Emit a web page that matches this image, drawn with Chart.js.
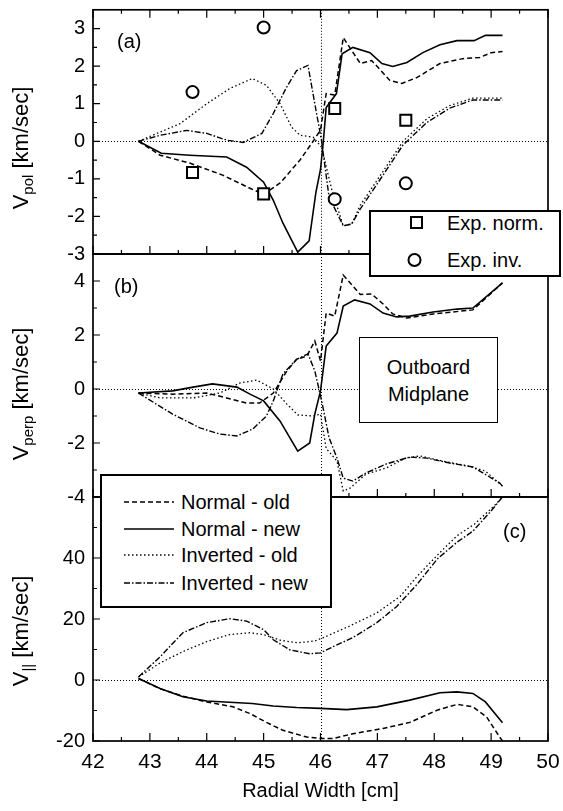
<!DOCTYPE html>
<html>
<head>
<meta charset="utf-8">
<script src="https://cdn.jsdelivr.net/npm/chart.js@4.4.1/dist/chart.umd.min.js"></script>
<style>
  body { margin: 0; background: #fff; }
  #wrap { position: relative; width: 563px; height: 811px; font-family: "Liberation Sans", Arial, sans-serif; color: #000; }
  canvas { position: absolute; left: 0; top: 0; }
  .txt { position: absolute; font-size: 20px; white-space: nowrap; }
  .ytitle { position: absolute; font-size: 22px; white-space: nowrap; transform: translate(-50%, -50%) rotate(-90deg); }
  .ytitle sub { font-size: 15px; vertical-align: -5px; }
  .box { position: absolute; background: #fff; border: 1.5px solid #000; box-sizing: border-box; z-index: 5; }
  .row { position: absolute; left: 0; height: 24px; line-height: 24px; font-size: 20px; white-space: nowrap; }
  .row svg { position: absolute; top: 0; }
  .row span { position: absolute; }
</style>
</head>
<body>
<div id="wrap">
  <canvas id="chartA" width="563" height="811"></canvas>
  <canvas id="chartB" width="563" height="811"></canvas>
  <canvas id="chartC" width="563" height="811"></canvas>

  <div class="ytitle" style="left:22px;top:148px">V<sub>pol</sub> [km/sec]</div>
  <div class="ytitle" style="left:22px;top:394px">V<sub>perp</sub> [km/sec]</div>
  <div class="ytitle" style="left:22px;top:631px">V<sub>||</sub> [km/sec]</div>

  <div class="txt" style="left:117px;top:30px">(a)</div>
  <div class="txt" style="left:114px;top:275px">(b)</div>
  <div class="txt" style="left:503px;top:520px">(c)</div>

  <div class="box" style="left:359px;top:337px;width:139px;height:86px;text-align:center;font-size:20px;line-height:27px;padding-top:16px">Outboard<br>Midplane</div>

  <div class="box" style="left:369px;top:210px;width:192px;height:67px;border-width:2px">
    <div class="row" style="top:-1px;width:190px">
      <svg width="20" height="24" style="left:36px"><rect x="4" y="6" width="11" height="11" fill="#fff" stroke="#000" stroke-width="2"/></svg>
      <span style="left:76px">Exp. norm.</span>
    </div>
    <div class="row" style="top:36px;width:190px">
      <svg width="20" height="24" style="left:34px"><circle cx="9.5" cy="12" r="6" fill="#fff" stroke="#000" stroke-width="2"/></svg>
      <span style="left:76px">Exp. inv.</span>
    </div>
  </div>

  <div class="box" style="left:100px;top:474px;width:232px;height:134px;border-width:2px">
    <div class="row" style="top:14px;width:230px">
      <svg width="52" height="24" style="left:22px"><line x1="0" y1="12" x2="50" y2="12" stroke="#000" stroke-width="1.5" stroke-dasharray="5 3"/></svg>
      <span style="left:79px">Normal - old</span>
    </div>
    <div class="row" style="top:41px;width:230px">
      <svg width="52" height="24" style="left:22px"><line x1="0" y1="12" x2="50" y2="12" stroke="#000" stroke-width="1.6"/></svg>
      <span style="left:79px">Normal - new</span>
    </div>
    <div class="row" style="top:67px;width:230px">
      <svg width="52" height="24" style="left:22px"><line x1="0" y1="12" x2="50" y2="12" stroke="#000" stroke-width="1.3" stroke-dasharray="1.5 2.5"/></svg>
      <span style="left:79px">Inverted - old</span>
    </div>
    <div class="row" style="top:95px;width:230px">
      <svg width="52" height="24" style="left:22px"><line x1="0" y1="12" x2="50" y2="12" stroke="#000" stroke-width="1.4" stroke-dasharray="6 2 1.5 2"/></svg>
      <span style="left:79px">Inverted - new</span>
    </div>
  </div>
</div>

<script>
// x axis (radial width, cm)
const xMin = 42, xMax = 50;
const xMajor = [42, 43, 44, 45, 46, 47, 48, 49, 50];
const xMinor = [42.5, 43.5, 44.5, 45.5, 46.5, 47.5, 48.5, 49.5];
const xRef = 46;

// (a) V_pol
const polTicks = [-3, -2, -1, 0, 1, 2, 3];
const polMinor = [-2.5, -1.5, -0.5, 0.5, 1.5, 2.5];
const polNormOldX = [42.8, 43.18, 43.7, 44.28, 44.76, 45.0, 45.29, 45.64, 45.87, 46.0, 46.1, 46.25, 46.4, 46.7, 46.9, 47.22, 47.43, 47.7, 48.1, 48.5, 48.8, 49.0, 49.2];
const polNormOldY = [0, -0.37, -0.58, -0.9, -1.25, -1.41, -1.11, -0.5, 0.0, 0.3, 1.27, 1.23, 2.76, 2.07, 2.15, 1.62, 1.54, 1.7, 2.07, 2.2, 2.23, 2.36, 2.39];
const polNormNewX = [42.8, 43.2, 43.7, 44.35, 44.7, 45.0, 45.17, 45.34, 45.6, 45.8, 45.92, 46.0, 46.05, 46.1, 46.28, 46.38, 46.57, 46.87, 47.08, 47.27, 47.52, 47.8, 48.1, 48.4, 48.7, 48.9, 49.2];
const polNormNewY = [0, -0.32, -0.37, -0.42, -0.69, -1.09, -1.57, -2.18, -2.95, -2.65, -1.35, -0.75, 0.0, 0.9, 1.27, 2.33, 2.5, 2.36, 2.07, 1.99, 2.1, 2.36, 2.57, 2.68, 2.68, 2.82, 2.82];
const polInvOldX = [42.8, 43.53, 44.0, 44.4, 44.8, 45.05, 45.29, 45.49, 45.64, 45.87, 46.02, 46.2, 46.4, 46.55, 46.7, 47.1, 47.45, 47.87, 48.27, 48.68, 49.2];
const polInvOldY = [0, 0.47, 1.0, 1.4, 1.67, 1.49, 1.0, 0.38, 0.16, 0.11, -0.16, -1.3, -2.25, -2.2, -1.7, -0.8, 0.0, 0.6, 0.95, 1.15, 1.15];
const polInvNewX = [42.8, 43.18, 43.65, 44.0, 44.35, 44.64, 44.97, 45.17, 45.4, 45.58, 45.78, 45.9, 46.02, 46.15, 46.4, 46.55, 46.7, 47.1, 47.45, 47.87, 48.27, 48.68, 49.2];
const polInvNewY = [0, 0.16, 0.29, 0.21, 0.03, -0.03, 0.21, 0.74, 1.43, 1.88, 2.02, 1.0, 0.0, -1.48, -2.25, -2.2, -1.8, -0.9, -0.1, 0.5, 0.88, 1.1, 1.1];
const expNormX = [43.75, 45.0, 46.25, 47.5];
const expNormY = [-0.83, -1.4, 0.87, 0.56];
const expInvX = [43.75, 45.0, 46.25, 47.5];
const expInvY = [1.31, 3.03, -1.54, -1.12];

// (b) V_perp
const perpTicks = [-4, -2, 0, 2, 4];
const perpMinor = [-3, -1, 1, 3];
const perpNormOldX = [42.8, 43.4, 44.0, 44.35, 44.7, 44.93, 45.17, 45.41, 45.58, 45.76, 45.9, 46.0, 46.1, 46.25, 46.4, 46.7, 46.9, 47.1, 47.27, 47.52, 47.98, 48.68, 49.2];
const perpNormOldY = [-0.15, -0.19, -0.15, -0.33, -0.52, -0.52, -0.15, 0.67, 1.1, 1.22, 1.78, 1.04, 2.81, 2.7, 4.22, 3.5, 3.52, 3.15, 2.78, 2.63, 2.78, 2.93, 3.93];
const perpNormNewX = [42.8, 43.4, 43.76, 44.1, 44.53, 44.76, 45.0, 45.29, 45.46, 45.6, 45.81, 45.9, 46.0, 46.1, 46.29, 46.4, 46.6, 46.87, 47.1, 47.34, 47.57, 47.98, 48.4, 48.68, 49.2];
const perpNormNewY = [-0.15, -0.07, 0.07, 0.19, 0.07, -0.19, -0.44, -1.19, -1.8, -2.3, -2.0, -0.93, -0.07, 1.59, 2.07, 3.07, 3.3, 3.15, 2.81, 2.67, 2.7, 2.85, 2.96, 3.0, 3.93];
const perpInvOldX = [42.8, 43.18, 43.76, 44.23, 44.58, 44.88, 45.17, 45.41, 45.6, 45.87, 46.0, 46.1, 46.29, 46.4, 46.52, 46.8, 47.15, 47.5, 47.75, 48.15, 48.6, 48.9, 49.2];
const perpInvOldY = [-0.15, -0.33, -0.33, -0.15, 0.22, 0.33, 0.0, -0.56, -0.96, -1.0, -0.93, -2.2, -2.67, -3.78, -3.67, -3.15, -2.93, -2.56, -2.48, -2.67, -2.85, -3.04, -3.6];
const perpInvNewX = [42.8, 43.4, 43.88, 44.23, 44.53, 44.81, 45.05, 45.17, 45.34, 45.58, 45.78, 45.9, 46.02, 46.15, 46.29, 46.4, 46.57, 46.8, 47.15, 47.57, 47.87, 48.27, 48.68, 49.15, 49.2];
const perpInvNewY = [-0.15, -0.93, -1.44, -1.67, -1.74, -1.48, -1.0, -0.44, 0.56, 1.1, 1.3, 0.67, -0.44, -1.8, -2.56, -3.3, -3.41, -3.11, -2.78, -2.52, -2.56, -2.74, -2.89, -3.48, -3.6];

// (c) V_||
const parTicks = [-20, 0, 20, 40];
const parMajor = [-20, 0, 20, 40, 60];
const parMinor = [-10, 10, 30, 50];
const parNormOldX = [42.8, 43.18, 43.58, 44.0, 44.46, 44.76, 45.05, 45.34, 45.76, 46.0, 46.22, 46.57, 47.1, 47.57, 48.05, 48.4, 48.68, 48.92, 49.15, 49.2];
const parNormOldY = [0.5, -2.9, -5.3, -7.2, -8.8, -11, -13.9, -16.5, -18.7, -19.2, -19.2, -17.6, -15.9, -13.9, -9.9, -8.0, -8.8, -12.1, -18.7, -20];
const parNormNewX = [42.8, 43.18, 43.58, 44.0, 44.4, 44.8, 45.17, 45.58, 46.0, 46.46, 46.99, 47.57, 48.1, 48.4, 48.68, 48.9, 49.2];
const parNormNewY = [0.5, -2.8, -5.5, -6.9, -7.3, -7.7, -8.5, -9.0, -9.3, -9.7, -8.8, -6.6, -4.2, -3.9, -4.4, -7.2, -14];
const parInvOldX = [42.8, 43.18, 43.58, 44.0, 44.4, 44.76, 45.0, 45.3, 45.6, 45.9, 46.1, 46.5, 46.99, 47.4, 47.7, 48.1, 48.4, 48.7, 49.05, 49.2];
const parInvOldY = [1, 5.6, 9.3, 12.6, 14.9, 15.5, 14.9, 13.0, 12.2, 12.8, 14.3, 17.6, 22, 27.4, 34, 41.8, 47.3, 51, 57, 60];
const parInvNewX = [42.8, 43.18, 43.58, 44.0, 44.4, 44.7, 45.0, 45.17, 45.46, 45.81, 46.0, 46.22, 46.57, 46.99, 47.34, 47.7, 48.05, 48.4, 48.68, 48.98, 49.2];
const parInvNewY = [1, 7.6, 15.5, 18.8, 20.1, 19.3, 16.5, 13.2, 9.9, 8.6, 8.9, 10.9, 13.9, 18.8, 24.1, 31.4, 39.6, 45.2, 48.8, 55, 60];

Chart.defaults.font.family = '"Liberation Sans", Arial, sans-serif';
Chart.defaults.color = '#000';

const pts = (xs, ys) => xs.map((x, i) => ({ x: x, y: ys[i] }));

// line styles for the four model runs
const styles = {
  normOld: { borderDash: [5, 3], borderWidth: 1.5 },
  normNew: { borderDash: [], borderWidth: 1.6 },
  invOld: { borderDash: [1.5, 2.5], borderWidth: 1.3 },
  invNew: { borderDash: [6, 2, 1.5, 2], borderWidth: 1.4 }
};

let lineSet = (label, xs, ys, style) => ({
  label: label,
  data: pts(xs, ys),
  borderColor: '#000',
  backgroundColor: '#000',
  borderDash: style.borderDash,
  borderWidth: style.borderWidth,
  pointRadius: 0,
  tension: 0,
  fill: false
});

// frame, inward ticks and dotted reference lines
const framePlugin = {
  id: 'frame',
  beforeDatasetsDraw(chart, args, opts) {
    const { ctx, chartArea: a, scales: { x, y } } = chart;
    ctx.save();
    ctx.strokeStyle = '#000';
    ctx.lineWidth = 1;
    ctx.setLineDash([1, 2]);
    let y0 = Math.round(y.getPixelForValue(0)) + 0.5;
    let xr = Math.round(x.getPixelForValue(xRef)) + 0.5;
    ctx.beginPath();
    ctx.moveTo(a.left, y0); ctx.lineTo(a.right, y0);
    ctx.moveTo(xr, a.top); ctx.lineTo(xr, a.bottom);
    ctx.stroke();
    ctx.restore();
  },
  afterDatasetsDraw(chart, args, opts) {
    const { ctx, chartArea: a, scales: { x, y } } = chart;
    ctx.save();
    ctx.strokeStyle = '#000';
    ctx.lineWidth = 1.2;
    ctx.beginPath();
    // x ticks on bottom edge (pointing up), and on top edge for panel (a)
    xMajor.concat(xMinor).forEach(v => {
      let len = xMajor.includes(v) ? 8 : 4;
      let px = x.getPixelForValue(v);
      ctx.moveTo(px, a.bottom); ctx.lineTo(px, a.bottom - len);
      if (opts.topTicks) { ctx.moveTo(px, a.top); ctx.lineTo(px, a.top + len); }
    });
    opts.yMajor.concat(opts.yMinor).forEach(v => {
      let len = opts.yMajor.includes(v) ? 7 : 4;
      let py = y.getPixelForValue(v);
      ctx.moveTo(a.left, py); ctx.lineTo(a.left + len, py);
    });
    ctx.stroke();
    ctx.lineWidth = 1.7;
    ctx.strokeRect(a.left, a.top, a.right - a.left, a.bottom - a.top);
    ctx.restore();
  }
};

let makePanel = (id, datasets, yMin, yMax, yTickVals, yMajor, yMinor, padTop, padBottom, isBottom, topTicks) => {
  return new Chart(document.getElementById(id), {
    type: 'line',
    data: { datasets: datasets },
    options: {
      responsive: false,
      animation: false,
      layout: { padding: { left: 0, right: 15, top: padTop, bottom: padBottom } },
      plugins: {
        legend: { display: false },
        tooltip: { enabled: false },
        frame: { yMajor: yMajor, yMinor: yMinor, topTicks: topTicks }
      },
      scales: {
        x: {
          type: 'linear', min: xMin, max: xMax,
          display: isBottom,
          afterFit: s => { s.height = isBottom ? 70 : 0; s.paddingLeft = 0; s.paddingRight = 0; },
          afterBuildTicks: s => { s.ticks = xMajor.map(v => ({ value: v })); },
          grid: { display: false, drawTicks: false },
          border: { display: false },
          ticks: { font: { size: 21 }, padding: 9, maxRotation: 0, callback: v => String(v) },
          title: { display: true, text: 'Radial Width [cm]', font: { size: 20 }, padding: { top: 0, bottom: 8 } }
        },
        y: {
          type: 'linear', min: yMin, max: yMax,
          afterFit: s => { s.width = 93; s.paddingTop = 0; s.paddingBottom = 0; },
          afterBuildTicks: s => { s.ticks = yTickVals.map(v => ({ value: v })); },
          grid: { display: false, drawTicks: false },
          border: { display: false },
          ticks: { font: { size: 20 }, padding: 8, callback: v => String(v) }
        }
      }
    },
    plugins: [framePlugin]
  });
};

// (a)
let markerA = [
  {
    label: 'Exp. norm.', type: 'scatter', data: pts(expNormX, expNormY),
    pointStyle: 'rect', pointRadius: 7.8, borderColor: '#000', backgroundColor: '#fff', borderWidth: 2
  },
  {
    label: 'Exp. inv.', type: 'scatter', data: pts(expInvX, expInvY),
    pointStyle: 'circle', pointRadius: 6, borderColor: '#000', backgroundColor: '#fff', borderWidth: 2
  }
];
makePanel('chartA', markerA.concat([
  lineSet('Normal - old', polNormOldX, polNormOldY, styles.normOld),
  lineSet('Normal - new', polNormNewX, polNormNewY, styles.normNew),
  lineSet('Inverted - old', polInvOldX, polInvOldY, styles.invOld),
  lineSet('Inverted - new', polInvNewX, polInvNewY, styles.invNew)
]), -3, 3.5, polTicks, polTicks, polMinor, 9, 557, false, true);

// (b)
makePanel('chartB', [
  lineSet('Normal - old', perpNormOldX, perpNormOldY, styles.normOld),
  lineSet('Normal - new', perpNormNewX, perpNormNewY, styles.normNew),
  lineSet('Inverted - old', perpInvOldX, perpInvOldY, styles.invOld),
  lineSet('Inverted - new', perpInvNewX, perpInvNewY, styles.invNew)
], -4, 5, perpTicks, perpTicks, perpMinor, 254, 314, false, false);

// (c)
makePanel('chartC', [
  lineSet('Normal - old', parNormOldX, parNormOldY, styles.normOld),
  lineSet('Normal - new', parNormNewX, parNormNewY, styles.normNew),
  lineSet('Inverted - old', parInvOldX, parInvOldY, styles.invOld),
  lineSet('Inverted - new', parInvNewX, parInvNewY, styles.invNew)
], -20, 60, parTicks, parMajor, parMinor, 497, 0, true, false);
</script>
</body>
</html>
